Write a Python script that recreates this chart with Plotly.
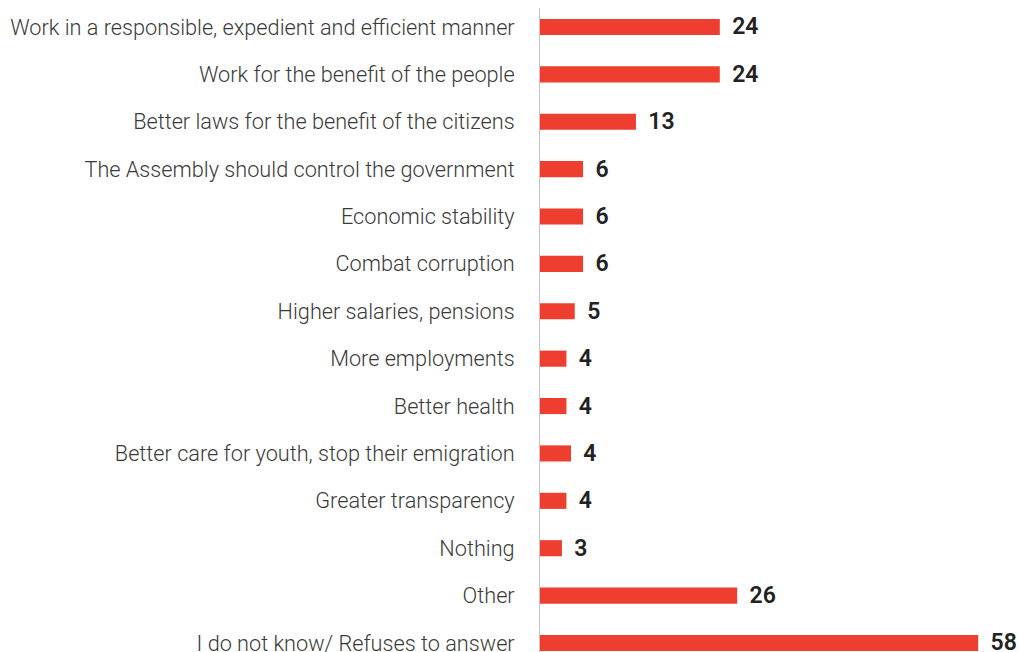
import plotly.graph_objects as go

categories = [
    "Work in a responsible, expedient and efficient manner",
    "Work for the benefit of the people",
    "Better laws for the benefit of the citizens",
    "The Assembly should control the government",
    "Economic stability",
    "Combat corruption",
    "Higher salaries, pensions",
    "More employments",
    "Better health",
    "Better care for youth, stop their emigration",
    "Greater transparency",
    "Nothing",
    "Other",
    "I do not know/ Refuses to answer",
]
# bar lengths; labels are rounded values shown on chart
values = [23.8, 23.8, 12.7, 5.7, 5.7, 5.7, 4.6, 3.5, 3.5, 4.1, 3.5, 2.9, 26.1, 58.0]
labels = [24, 24, 13, 6, 6, 6, 5, 4, 4, 4, 4, 3, 26, 58]

fig = go.Figure(go.Bar(
    x=values,
    y=categories,
    orientation="h",
    width=0.34,
    marker=dict(color="#EE3E2F", line=dict(width=0)),
    text=[f"\u2009\u2009{v}" for v in labels],
    textposition="outside",
    constraintext="none",
    textfont=dict(family="Roboto", size=23, color="#222222", weight=600),
    cliponaxis=False,
    hoverinfo="skip",
))

n = len(categories)
fig.update_layout(
    template="none",
    width=1019, height=652,
    margin=dict(l=540, r=0, t=8, b=0, autoexpand=False),
    paper_bgcolor="white", plot_bgcolor="white",
    showlegend=False,
    xaxis=dict(range=[0, 63.4], visible=False, showgrid=False, zeroline=False,
               automargin=False),
    yaxis=dict(
        type="category",
        categoryorder="array", categoryarray=categories,
        range=[n - 1 + 0.19, -0.40],
        automargin=False,
        showline=True, linecolor="#c4c4c4", linewidth=1,
        showgrid=False, zeroline=False, ticks="",
        ticklabelstandoff=20,
        tickfont=dict(family="Roboto", size=21.7, color="#3a3a3a", weight=300),
    ),
)

fig.write_html(
    "out.html",
    config={"displayModeBar": False},
    post_script="document.body.style.margin='0';document.body.style.overflow='hidden';",
)
